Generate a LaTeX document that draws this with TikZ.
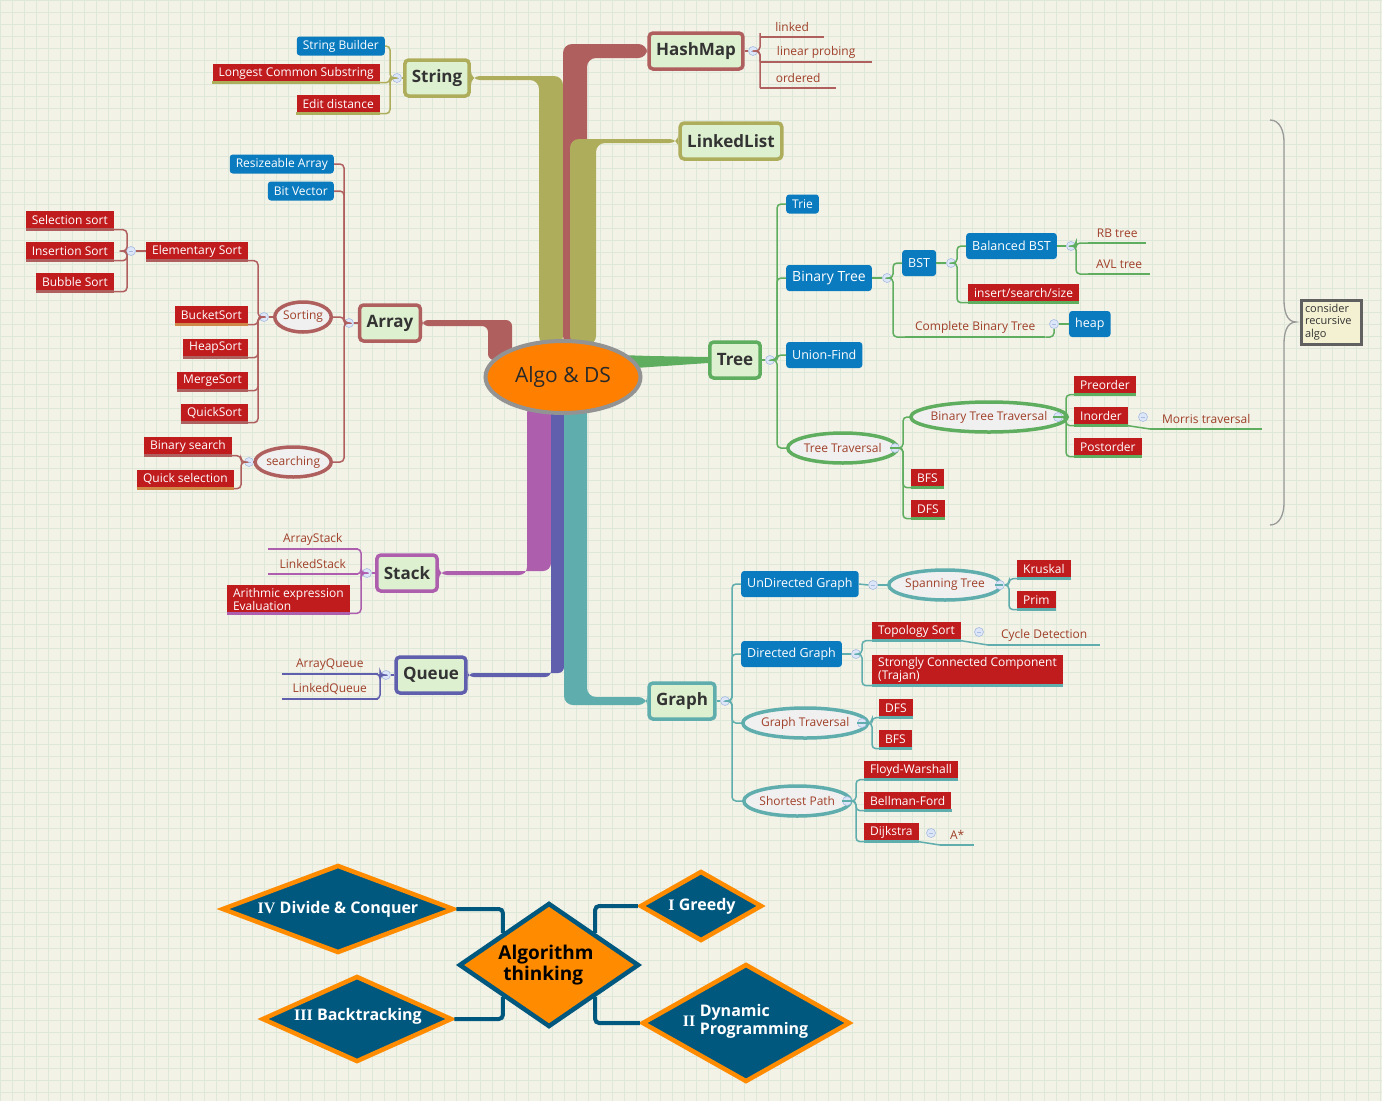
\documentclass[tikz,border=0pt]{standalone}
\usepackage{fontspec}
\setmainfont{Open Sans}
\newfontfamily\serifnum{Liberation Serif}
\usetikzlibrary{shapes.geometric}
\definecolor{bg}{HTML}{F2F2E6}
\definecolor{gridc}{HTML}{DEE8DA}
\definecolor{cRed}{HTML}{B05F5F}
\definecolor{cOl}{HTML}{ADAD5C}
\definecolor{cGr}{HTML}{5FAD5F}
\definecolor{cPu}{HTML}{AD5FAD}
\definecolor{cQu}{HTML}{5F5FAD}
\definecolor{cTe}{HTML}{5FADAD}
\definecolor{cOr}{HTML}{D08848}
\definecolor{blueF}{HTML}{0B7BBF}
\definecolor{redF}{HTML}{C01B1D}
\definecolor{labT}{HTML}{A0402A}
\definecolor{boxF}{HTML}{DDF0D0}
\definecolor{mainT}{HTML}{333333}
\definecolor{ellF}{HTML}{F0F0F0}
\definecolor{collF}{HTML}{DCE6F8}
\definecolor{collB}{HTML}{A8BCE0}
\definecolor{rootF}{HTML}{FF8000}
\definecolor{navy}{HTML}{00587F}
\definecolor{orD}{HTML}{FF8C00}
\definecolor{recF}{HTML}{F4F1D2}
\newcommand\conn[4]{\draw[br=#1] (#2) -| (#3 |- #4) -- (#4);}
\begin{document}
\begin{tikzpicture}[x=1pt,y=-1pt,
  leaf/.style={font=\fontsize{12}{14}\selectfont, inner xsep=6pt, inner ysep=3pt, minimum height=19pt},
  bluebox/.style={leaf, fill=blueF, text=white, rounded corners=3pt},
  bigblue/.style={bluebox, font=\fontsize{14}{16}\selectfont, minimum height=26pt},
  redbox/.style={leaf, fill=redF, text=white, append after command={(\tikzlastnode.south west) edge[draw=#1, line width=3pt] (\tikzlastnode.south east)}},
  txt/.style 2 args={leaf, text=labT, minimum width=#2, append after command={(\tikzlastnode.south west) edge[draw=#1, line width=1.5pt] (\tikzlastnode.south east)}},
  ell/.style={leaf, ellipse, draw=#1, line width=3.5pt, fill=ellF, text=labT, inner xsep=0pt, minimum height=30pt},
  topic/.style={draw=#1, line width=3.5pt, fill=boxF, rounded corners=4pt, font=\fontsize{17}{20}\selectfont\bfseries, text=mainT, inner xsep=7pt, minimum height=36pt},
  coll/.style={circle, draw=collB, fill=collF, minimum size=9pt, inner sep=0pt, line width=0.6pt, path picture={\draw[collB,line width=0.8pt] ([xshift=-2pt]path picture bounding box.center) -- ([xshift=2pt]path picture bounding box.center);}},
  br/.style={draw=#1, line width=1.5pt, rounded corners=4pt},
  dia/.style={diamond, draw=orD, line width=4.5pt, fill=navy, inner sep=0pt},
  dtext/.style={text=white, font=\fontsize{16}{18}\selectfont\bfseries, align=left},
  dconn/.style={draw=navy, line width=4pt, rounded corners=4pt}]
\fill[bg] (0,0) rectangle (1382,1101);
\useasboundingbox (0,0) rectangle (1382,1101);
\foreach \i in {0,12,...,1380} \draw[gridc, line width=0.4pt] (\i,0) -- (\i,1101);
\foreach \j in {0,12,...,1100} \draw[gridc, line width=0.4pt] (0,\j) -- (1382,\j);

% ---- topics
\node[topic=cOl] (str) at (437,78) {String};
\node[topic=cRed] (hm) at (696,51) {HashMap};
\node[topic=cOl] (ll) at (731,141) {LinkedList};
\node[topic=cRed] (arr) at (390,323) {Array};
\node[topic=cGr] (tree) at (735,360) {Tree};
\node[topic=cPu] (stk) at (407,573) {Stack};
\node[topic=cQu] (que) at (431,675) {Queue};
\node[topic=cTe] (gr) at (682,701) {Graph};

% ---- trunks
\fill[cOl, rounded corners=9pt] ([yshift=2pt]str.east) -- (563,76) -- (563,345) -- (539,345) -- (539,80) -- ([yshift=-2pt]str.east) -- cycle;
\fill[cRed, rounded corners=9pt] ([yshift=7pt]hm.west) -- (563,44) -- (563,345) -- (587,345) -- (587,58) -- ([yshift=-7pt]hm.west) -- cycle;
\fill[cOl, rounded corners=9pt] ([yshift=2pt]ll.west) -- (570,139) -- (570,345) -- (596,345) -- (596,143) -- ([yshift=-2pt]ll.west) -- cycle;
\fill[cRed, rounded corners=6pt] ([yshift=3pt]arr.east) -- (512,320) -- (512,360) -- (488,360) -- (488,326) -- ([yshift=-3pt]arr.east) -- cycle;
\fill[cPu, rounded corners=8pt] (527,405) -- (527,575) -- ([yshift=-2pt]stk.east) -- ([yshift=2pt]stk.east) -- (551,571) -- (551,405) -- cycle;
\fill[cQu, rounded corners=6pt] (551,405) -- (551,677) -- ([yshift=-2pt]que.east) -- ([yshift=2pt]que.east) -- (564,673) -- (564,405) -- cycle;
\fill[cTe, rounded corners=9pt] (564,405) -- (564,705) -- ([yshift=-4pt]gr.west) -- ([yshift=4pt]gr.west) -- (587,697) -- (587,405) -- cycle;
\fill[cGr] (620,355) -- (650,356) -- ([yshift=3pt]tree.west) -- ([yshift=-3pt]tree.west) -- (650,367) -- (620,369) -- cycle;

\node[ellipse, draw=gray!85, line width=4pt, fill=rootF, minimum width=155pt, minimum height=72pt, font=\fontsize{21}{24}\selectfont, text=mainT!80!black] (root) at (563,377) {Algo \& DS};

% ---- String
\node[bluebox, anchor=east] (s1) at (385,46) {String Builder};
\node[redbox=cOl, anchor=east] (s2) at (380,73) {Longest Common Substring};
\node[redbox=cOl, anchor=east] (s3) at (380,104) {Edit distance};
\coordinate (sL) at (390,0);
\node[coll] (sC) at (397,78) {};
\draw[br=cOl] (str.west) -- (sC.east);
\conn{cOl}{sC.west}{sL}{s1.east}
\conn{cOl}{sC.west}{sL}{s2.south east}
\conn{cOl}{sC.west}{sL}{s3.south east}

% ---- HashMap
\node[coll] (hC) at (753,51) {};
\draw[br=cRed] (hm.east) -- (hC.west);
\coordinate (hL) at (760,0);
\node[txt={cRed}{64pt}, anchor=south west] (h1) at (760,37) {linked};
\node[txt={cRed}{112pt}, anchor=south west] (h2) at (760,62) {linear probing};
\node[txt={cRed}{76pt}, anchor=south west] (h3) at (760,88) {ordered};
\conn{cRed}{hC.east}{hL}{h1.south west}
\conn{cRed}{hC.east}{hL}{h2.south west}
\conn{cRed}{hC.east}{hL}{h3.south west}

% ---- Array
\node[coll] (aC) at (349,323) {};
\draw[br=cRed] (arr.west) -- (aC.east);
\coordinate (aL) at (344,0);
\node[bluebox, anchor=east] (a1) at (334,164) {Resizeable Array};
\node[bluebox, anchor=east] (a2) at (334,191) {Bit Vector};
\node[ell=cRed, anchor=east] (a3) at (333,317) {Sorting};
\node[ell=cRed, anchor=east] (a4) at (333,462) {searching};
\conn{cRed}{aC.west}{aL}{a1.east}
\conn{cRed}{aC.west}{aL}{a2.east}
\conn{cRed}{aC.west}{aL}{a3.east}
\conn{cRed}{aC.west}{aL}{a4.east}

\node[coll] (soC) at (264,317) {};
\draw[br=cRed] (a3.west) -- (soC.east);
\coordinate (soL) at (258,0);
\node[redbox=cRed, anchor=east] (so1) at (248,251) {Elementary Sort};
\node[redbox=cOr, anchor=east] (so2) at (248,315) {BucketSort};
\node[redbox=cRed, anchor=east] (so3) at (248,348) {HeapSort};
\node[redbox=cRed, anchor=east] (so4) at (248,381) {MergeSort};
\node[redbox=cRed, anchor=east] (so5) at (248,413) {QuickSort};
\foreach \k in {so1,so2,so3,so4,so5} {\conn{cRed}{soC.west}{soL}{\k.south east}}

\node[coll] (eC) at (131,251) {};
\draw[br=cRed] (so1.west) -- (eC.east);
\coordinate (eL) at (127,0);
\node[redbox=cRed, anchor=east] (e1) at (114,220) {Selection sort};
\node[redbox=cRed, anchor=east] (e2) at (114,251) {Insertion Sort};
\node[redbox=cRed, anchor=east] (e3) at (114,282) {Bubble Sort};
\foreach \k in {e1,e2,e3} {\conn{cRed}{eC.west}{eL}{\k.south east}}

\node[coll] (seC) at (249,462) {};
\draw[br=cRed] (a4.west) -- (seC.east);
\coordinate (seL) at (241,0);
\node[redbox=cRed, anchor=east] (se1) at (232,446) {Binary search};
\node[redbox=cOr, anchor=east] (se2) at (234,479) {Quick selection};
\foreach \k in {se1,se2} {\conn{cRed}{seC.west}{seL}{\k.south east}}

% ---- Tree
\node[coll] (tC) at (770,360) {};
\draw[br=cGr] (tree.east) -- (tC.west);
\coordinate (tL) at (777,0);
\node[bluebox, anchor=west] (t1) at (786,204) {Trie};
\node[bigblue, anchor=west] (t2) at (786,278) {Binary Tree};
\node[bigblue, font=\fontsize{12.5}{14}\selectfont, anchor=west] (t3) at (786,355) {Union-Find};
\node[ell=cGr, anchor=west] (t4) at (786,448) {Tree Traversal};
\foreach \k in {t1,t2,t3,t4} {\conn{cGr}{tC.east}{tL}{\k.west}}

\node[coll] (btC) at (887,278) {};
\draw[br=cGr] (t2.east) -- (btC.west);
\coordinate (btL) at (893,0);
\node[bigblue, font=\fontsize{12.5}{14}\selectfont, anchor=west] (bst) at (902,263) {BST};
\node[txt={cGr}{140pt}, anchor=south west] (cbt) at (905,337) {Complete Binary Tree};
\conn{cGr}{btC.east}{btL}{bst.west}
\conn{cGr}{btC.east}{btL}{cbt.south west}

\node[coll] (bsC) at (951,263) {};
\draw[br=cGr] (bst.east) -- (bsC.west);
\coordinate (bsL) at (957,0);
\node[bigblue, font=\fontsize{12.5}{14}\selectfont, anchor=west] (bal) at (966,246) {Balanced BST};
\node[redbox=cGr, anchor=west] (ins) at (968,293) {insert/search/size};
\conn{cGr}{bsC.east}{bsL}{bal.west}
\conn{cGr}{bsC.east}{bsL}{ins.south west}

\node[coll] (balC) at (1071,246) {};
\draw[br=cGr] (bal.east) -- (balC.west);
\coordinate (balL) at (1076,0);
\node[txt={cGr}{58pt}, anchor=south west] (rb) at (1088,243) {RB tree};
\node[txt={cGr}{62pt}, anchor=south west] (avl) at (1088,274) {AVL tree};
\conn{cGr}{balC.east}{balL}{rb.south west}
\conn{cGr}{balC.east}{balL}{avl.south west}

\node[coll] (cbC) at (1054,324) {};
\node[bigblue, font=\fontsize{12.5}{14}\selectfont, anchor=west] (heap) at (1069,324) {heap};
\draw[br=cGr] (cbt.south east) -| (cbC.south);
\draw[br=cGr] (cbC.east) -- (heap.west);

\node[coll] (ttC) at (895,448) {};
\draw[br=cGr] (t4.east) -- (ttC.west);
\coordinate (ttL) at (903,0);
\node[ell=cGr, anchor=west, inner xsep=-3pt] (btt) at (909,417) {Binary Tree Traversal};
\node[redbox=cGr, anchor=west] (bfs) at (911,478) {BFS};
\node[redbox=cGr, anchor=west] (dfs) at (911,509) {DFS};
\conn{cGr}{ttC.east}{ttL}{btt.west}
\conn{cGr}{ttC.east}{ttL}{bfs.south west}
\conn{cGr}{ttC.east}{ttL}{dfs.south west}

\node[coll] (bttC) at (1058,417) {};
\draw[br=cGr] (btt.east) -- (bttC.west);
\coordinate (bttL) at (1066,0);
\node[redbox=cGr, anchor=west] (pre) at (1074,385) {Preorder};
\node[redbox=cGr, anchor=west] (ino) at (1074,416) {Inorder};
\node[redbox=cGr, anchor=west] (post) at (1074,447) {Postorder};
\foreach \k in {pre,ino,post} {\conn{cGr}{bttC.east}{bttL}{\k.south west}}
\node[coll] (inC) at (1143,417) {};
\node[txt={cGr}{112pt}, anchor=south west] (mor) at (1150,429) {Morris traversal};
\draw[br=cGr] (ino.south east) -- (mor.south west);

% ---- brace and note
\draw[gray!80, line width=1.3pt] (1270,120) to[out=0,in=90] (1284,142) -- (1284,300) to[out=-90,in=180] (1296,322) to[out=180,in=90] (1284,344) -- (1284,503) to[out=-90,in=0] (1270,525);
\node[draw=gray!75!black, line width=3pt, fill=recF, align=left, font=\fontsize{11}{12.5}\selectfont, text=mainT, inner sep=4pt, text width=52pt] (rec) at (1331,322) {consider\\recursive\\algo};

% ---- Stack
\node[coll] (stC) at (367,573) {};
\draw[br=cPu] (stk.west) -- (stC.east);
\coordinate (stL) at (361,0);
\node[txt={cPu}{90pt}, anchor=south east] (st1) at (358,549) {ArrayStack};
\node[txt={cPu}{90pt}, anchor=south east] (st2) at (358,574) {LinkedStack};
\node[redbox=cPu, anchor=east, align=left, font=\fontsize{12}{13}\selectfont] (st3) at (350,599) {Arithmic expression\\Evaluation};
\conn{cPu}{stC.west}{stL}{st1.south east}
\conn{cPu}{stC.west}{stL}{st2.south east}
\conn{cPu}{stC.west}{stL}{st3.south east}

% ---- Queue
\node[coll] (qC) at (386,675) {};
\draw[br=cQu] (que.west) -- (qC.east);
\coordinate (qL) at (380,0);
\node[txt={cQu}{96pt}, anchor=south east] (q1) at (378,674) {ArrayQueue};
\node[txt={cQu}{96pt}, anchor=south east] (q2) at (378,699) {LinkedQueue};
\conn{cQu}{qC.west}{qL}{q1.south east}
\conn{cQu}{qC.west}{qL}{q2.south east}

% ---- Graph
\node[coll] (gC) at (725,701) {};
\draw[br=cTe] (gr.east) -- (gC.west);
\coordinate (gL) at (732,0);
\node[bigblue, font=\fontsize{12.5}{14}\selectfont, anchor=west] (g1) at (741,584) {UnDirected Graph};
\node[bigblue, font=\fontsize{12.5}{14}\selectfont, anchor=west] (g2) at (741,654) {Directed Graph};
\node[ell=cTe, anchor=west] (g3) at (741,723) {Graph Traversal};
\node[ell=cTe, anchor=west] (g4) at (742,801) {Shortest Path};
\foreach \k in {g1,g2,g3,g4} {\conn{cTe}{gC.east}{gL}{\k.west}}

\node[coll] (g1C) at (873,585) {};
\draw[br=cTe] (g1.east) -- (g1C.west);
\node[ell=cTe, anchor=west] (span) at (887,585) {Spanning Tree};
\draw[br=cTe] (g1C.east) -- (span.west);
\node[coll] (spC) at (1000,585) {};
\draw[br=cTe] (span.east) -- (spC.west);
\coordinate (spL) at (1009,0);
\node[redbox=cTe, anchor=west] (kr) at (1017,569) {Kruskal};
\node[redbox=cTe, anchor=west] (prim) at (1017,600) {Prim};
\conn{cTe}{spC.east}{spL}{kr.south west}
\conn{cTe}{spC.east}{spL}{prim.south west}

\node[coll] (g2C) at (856,654) {};
\draw[br=cTe] (g2.east) -- (g2C.west);
\coordinate (g2L) at (862,0);
\node[redbox=cTe, anchor=west] (topo) at (872,631) {Topology Sort};
\node[redbox=cTe, anchor=west, align=left, font=\fontsize{12}{13}\selectfont] (scc) at (872,670) {Strongly Connected Component\\(Trajan)};
\conn{cTe}{g2C.east}{g2L}{topo.south west}
\conn{cTe}{g2C.east}{g2L}{scc.south west}
\node[coll] (toC) at (979,632) {};
\node[txt={cTe}{112pt}, anchor=south west] (cyc) at (988,645) {Cycle Detection};
\draw[br=cTe] (topo.south east) -- (cyc.south west);

\node[coll] (g3C) at (862,723) {};
\draw[br=cTe] (g3.east) -- (g3C.west);
\coordinate (g3L) at (872,0);
\node[redbox=cTe, anchor=west] (gd) at (879,708) {DFS};
\node[redbox=cTe, anchor=west] (gb) at (879,739) {BFS};
\conn{cTe}{g3C.east}{g3L}{gd.south west}
\conn{cTe}{g3C.east}{g3L}{gb.south west}

\node[coll] (g4C) at (847,801) {};
\draw[br=cTe] (g4.east) -- (g4C.west);
\coordinate (g4L) at (856,0);
\node[redbox=cTe, anchor=west] (fw) at (864,770) {Floyd-Warshall};
\node[redbox=cTe, anchor=west] (bf) at (864,801) {Bellman-Ford};
\node[redbox=cTe, anchor=west] (dj) at (864,832) {Dijkstra};
\foreach \k in {fw,bf,dj} {\conn{cTe}{g4C.east}{g4L}{\k.south west}}
\node[coll] (djC) at (931,833) {};
\node[txt={cTe}{34pt}, anchor=south west] (astar) at (940,845) {A*};
\draw[br=cTe] (dj.south east) -- (astar.south west);

% ---- Algorithm thinking
\node[diamond, draw=navy, line width=4.5pt, fill=orD, minimum width=180pt, minimum height=124pt, inner sep=0pt] (alg) at (549,965) {};
\node[font=\fontsize{19}{21}\selectfont\bfseries, align=left, text=black] at (546,965) {Algorithm\\\ thinking};
\node[dia, minimum width=232pt, minimum height=88pt] (d4) at (338,909) {};
\node[dtext] at (338,909) {{\serifnum IV} Divide \& Conquer};
\node[dia, minimum width=190pt, minimum height=86pt] (d3) at (357,1019) {};
\node[dtext] at (358,1016) {{\serifnum III} Backtracking};
\node[dia, minimum width=122pt, minimum height=70pt] (d1) at (701,906) {};
\node[dtext] at (702,906) {{\serifnum I} Greedy};
\node[dia, minimum width=208pt, minimum height=118pt] (d2) at (746,1023) {};
\node[dtext] at (689,1021) {\serifnum II};
\node[dtext] at (754,1021) {Dynamic\\Programming};
\draw[dconn] (d4.east) -| (alg.north west);
\draw[dconn] (d3.east) -| (alg.south west);
\draw[dconn] (d1.west) -| (alg.north east);
\draw[dconn] (d2.west) -| (alg.south east);
\end{tikzpicture}
\end{document}
